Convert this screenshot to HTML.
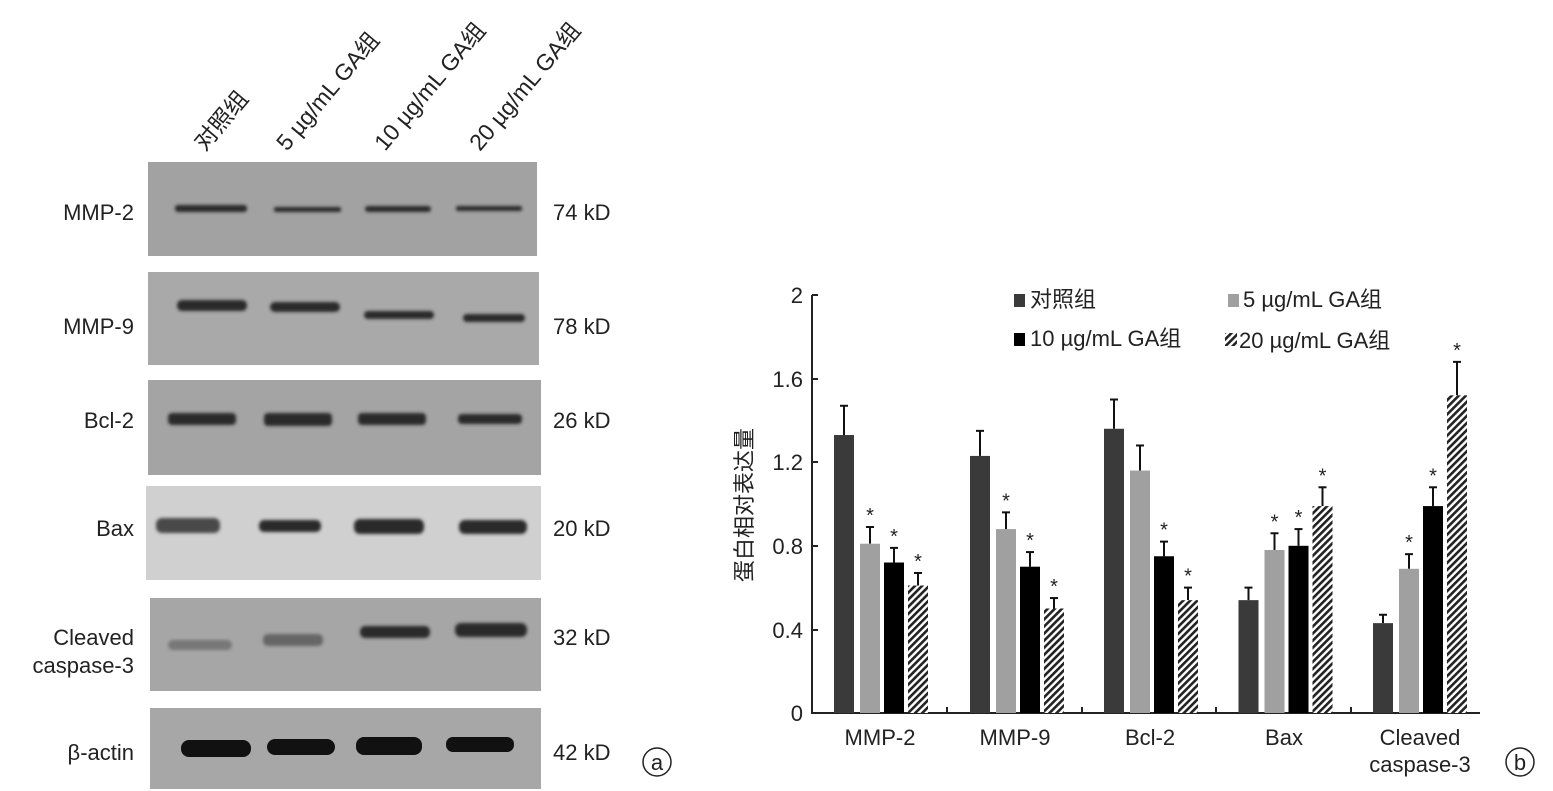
<!DOCTYPE html>
<html><head><meta charset="utf-8"><style>
body{margin:0;background:#fff;}
svg{display:block;font-family:"Liberation Sans","Noto Sans CJK SC",sans-serif;}
</style></head><body>
<svg width="1553" height="791" viewBox="0 0 1553 791" xmlns="http://www.w3.org/2000/svg">
<defs>
<pattern id="h" width="5" height="5" patternUnits="userSpaceOnUse" patternTransform="rotate(45)">
<rect width="5" height="5" fill="#fff"/><rect width="2.6" height="5" fill="#222"/>
</pattern>
<filter id="blur"><feGaussianBlur stdDeviation="1.5"/></filter>
</defs>
<!-- lane labels -->
<g font-size="23" fill="#222">
<text transform="translate(205,152) rotate(-50)">对照组</text>
<text transform="translate(287,152) rotate(-50)">5 µg/mL GA组</text>
<text transform="translate(385,152) rotate(-50)">10 µg/mL GA组</text>
<text transform="translate(480,152) rotate(-50)">20 µg/mL GA组</text>
</g>
<!-- blot panels -->
<rect x="148" y="162" width="389" height="94" fill="#a2a2a2"/>
<rect x="148" y="272" width="391" height="93" fill="#a9a9a9"/>
<rect x="148" y="380" width="393" height="95" fill="#a4a4a4"/>
<rect x="146" y="486" width="395" height="94" fill="#d0d0d0"/>
<rect x="150" y="598" width="391" height="93" fill="#a6a6a6"/>
<rect x="150" y="708" width="391" height="81" fill="#a7a7a7"/>
<g fill="#2a2a2a" filter="url(#blur)">
<rect x="175" y="205" width="72" height="7" rx="3"/><rect x="274" y="207" width="67" height="5" rx="2"/><rect x="365" y="206" width="66" height="6" rx="3"/><rect x="456" y="206" width="66" height="5" rx="2"/>
<rect x="177" y="300" width="70" height="11" rx="5"/><rect x="270" y="302" width="70" height="10" rx="5"/><rect x="364" y="311" width="70" height="8" rx="4"/><rect x="463" y="314" width="62" height="8" rx="4"/>
<rect x="168" y="413" width="68" height="12" rx="4"/><rect x="264" y="413" width="68" height="13" rx="4"/><rect x="358" y="413" width="68" height="12" rx="4"/><rect x="458" y="414" width="64" height="10" rx="4"/>
<rect x="156" y="518" width="64" height="15" rx="6" fill="#4a4a4a"/><rect x="259" y="520" width="62" height="12" rx="5"/><rect x="354" y="519" width="70" height="15" rx="6"/><rect x="459" y="520" width="68" height="14" rx="6"/>
<rect x="168" y="640" width="64" height="10" rx="5" fill="#777"/><rect x="263" y="634" width="60" height="12" rx="5" fill="#666"/><rect x="360" y="626" width="70" height="12" rx="5"/><rect x="455" y="623" width="72" height="14" rx="6"/>
</g>
<g fill="#111">
<rect x="181" y="740" width="70" height="17" rx="8"/><rect x="267" y="739" width="68" height="16" rx="8"/><rect x="356" y="737" width="66" height="18" rx="8"/><rect x="446" y="737" width="68" height="15" rx="7"/>
</g>
<!-- row labels -->
<g font-size="22" fill="#222" text-anchor="end">
<text x="134" y="220">MMP-2</text><text x="134" y="334">MMP-9</text><text x="134" y="428">Bcl-2</text><text x="134" y="536">Bax</text>
<text x="134" y="645">Cleaved</text><text x="134" y="673">caspase-3</text><text x="134" y="760">β-actin</text>
</g>
<g font-size="22" fill="#222">
<text x="553" y="220">74 kD</text><text x="553" y="334">78 kD</text><text x="553" y="428">26 kD</text><text x="553" y="536">20 kD</text><text x="553" y="645">32 kD</text><text x="553" y="760">42 kD</text>
</g>
<circle cx="657" cy="762" r="14" fill="none" stroke="#222" stroke-width="1.5"/><text x="657" y="770" font-size="22" text-anchor="middle" fill="#222">a</text>
<circle cx="1520" cy="762" r="14" fill="none" stroke="#222" stroke-width="1.5"/><text x="1520" y="770" font-size="22" text-anchor="middle" fill="#222">b</text>
<!-- chart axes -->
<g stroke="#222" stroke-width="2">
<line x1="812" y1="295" x2="812" y2="714"/>
<line x1="811" y1="713" x2="1480" y2="713"/>
<line x1="812" y1="295" x2="818" y2="295"/><line x1="812" y1="379" x2="818" y2="379"/><line x1="812" y1="462" x2="818" y2="462"/><line x1="812" y1="546" x2="818" y2="546"/><line x1="812" y1="630" x2="818" y2="630"/>
<line x1="947" y1="713" x2="947" y2="707"/><line x1="1082" y1="713" x2="1082" y2="707"/><line x1="1216" y1="713" x2="1216" y2="707"/><line x1="1351" y1="713" x2="1351" y2="707"/>
</g>
<g font-size="22" fill="#222" text-anchor="end">
<text x="803" y="303">2</text><text x="803" y="387">1.6</text><text x="803" y="470">1.2</text><text x="803" y="554">0.8</text><text x="803" y="638">0.4</text><text x="803" y="721">0</text>
</g>
<text transform="translate(752,505) rotate(-90)" font-size="22" fill="#222" text-anchor="middle">蛋白相对表达量</text>
<g font-size="22" fill="#222" text-anchor="middle">
<text x="880" y="745">MMP-2</text><text x="1015" y="745">MMP-9</text><text x="1150" y="745">Bcl-2</text><text x="1284" y="745">Bax</text><text x="1420" y="745">Cleaved</text><text x="1420" y="772">caspase-3</text>
</g>
<!-- legend -->
<rect x="1014" y="294" width="11" height="13" fill="#3a3a3a"/><text x="1030" y="307" font-size="22" fill="#222">对照组</text>
<rect x="1228" y="294" width="11" height="13" fill="#a0a0a0"/><text x="1243" y="307" font-size="22" fill="#222">5 µg/mL GA组</text>
<rect x="1014" y="333" width="11" height="13" fill="#000"/><text x="1030" y="346" font-size="22" fill="#222">10 µg/mL GA组</text>
<rect x="1225" y="333" width="12" height="13" fill="url(#h)"/><text x="1239" y="348" font-size="22" fill="#222">20 µg/mL GA组</text>
<!-- bars -->
<g id="bars" stroke="#111" stroke-width="2"></g>
<script>
var g=document.getElementById('bars'),ns='http://www.w3.org/2000/svg';
var starts=[834,970,1104,1238.5,1373],off=[0,26,50,74];
var fills=['#3a3a3a','#a0a0a0','#000','url(#h)'];
var v=[[1.33,1.47,.81,.89,.72,.79,.61,.67],[1.23,1.35,.88,.96,.70,.77,.50,.55],[1.36,1.50,1.16,1.28,.75,.82,.54,.60],[.54,.60,.78,.86,.80,.88,.99,1.08],[.43,.47,.69,.76,.99,1.08,1.52,1.68]];
var star=[[0,1,1,1],[0,1,1,1],[0,0,1,1],[0,1,1,1],[0,1,1,1]];
function Y(a){return 713-a*209;}
for(var i=0;i<5;i++)for(var j=0;j<4;j++){
 var x=starts[i]+off[j],w=20,val=v[i][2*j],e=v[i][2*j+1];
 var l=document.createElementNS(ns,'line');l.setAttribute('x1',x+w/2);l.setAttribute('x2',x+w/2);l.setAttribute('y1',Y(val));l.setAttribute('y2',Y(e));g.appendChild(l);
 var c=document.createElementNS(ns,'line');c.setAttribute('x1',x+w/2-4);c.setAttribute('x2',x+w/2+4);c.setAttribute('y1',Y(e));c.setAttribute('y2',Y(e));g.appendChild(c);
 var r=document.createElementNS(ns,'rect');r.setAttribute('x',x);r.setAttribute('y',Y(val));r.setAttribute('width',w);r.setAttribute('height',val*209);r.setAttribute('fill',fills[j]);r.setAttribute('stroke','none');g.appendChild(r);
 if(star[i][j]){var t=document.createElementNS(ns,'text');t.setAttribute('x',x+w/2);t.setAttribute('y',Y(e)-5);t.setAttribute('font-size','20');t.setAttribute('text-anchor','middle');t.setAttribute('stroke','none');t.setAttribute('fill','#222');t.textContent='*';g.appendChild(t);}
}
</script>
</svg>
</body></html>
